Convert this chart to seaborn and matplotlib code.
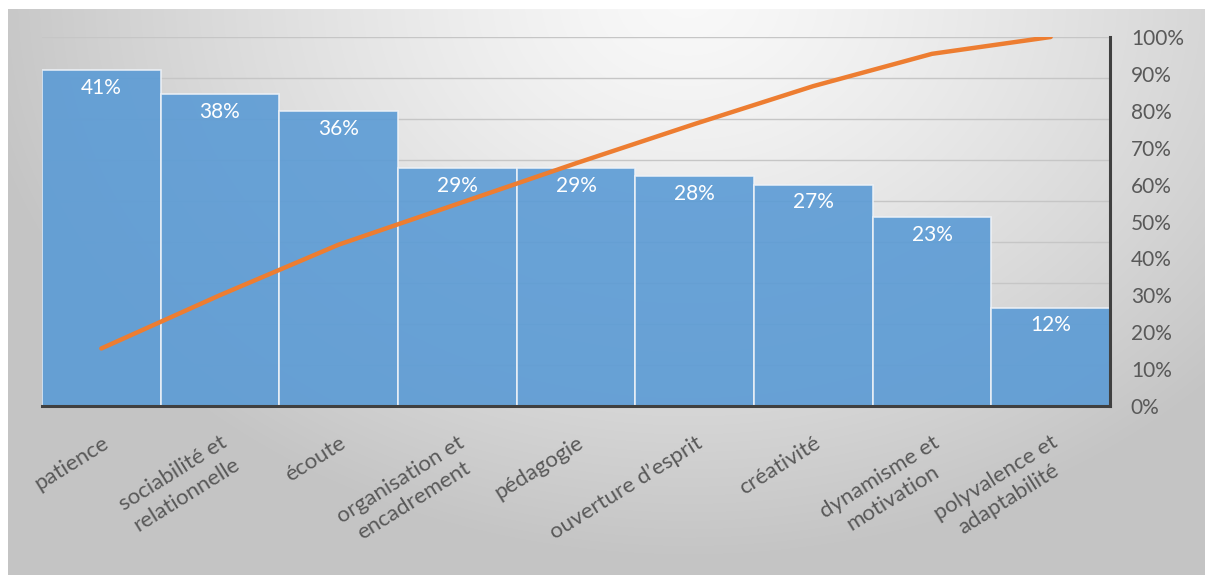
import numpy as np
import pandas as pd
import matplotlib
matplotlib.use("Agg")
import matplotlib.pyplot as plt
import seaborn as sns

# données
competences = ["patience", "sociabilité et\nrelationnelle", "écoute",
               "organisation et\nencadrement", "pédagogie", "ouverture d’esprit",
               "créativité", "dynamisme et\nmotivation", "polyvalence et\nadaptabilité"]
pourcentages = [41, 38, 36, 29, 29, 28, 27, 23, 12]
ticks_droite = [0, 10, 20, 30, 40, 50, 60, 70, 80, 90, 100]

df = pd.DataFrame({"competence": competences, "pct": pourcentages})
df["cumul"] = df["pct"].cumsum() / df["pct"].sum() * 100

sns.set_style("white")
plt.rcParams["font.family"] = ["Lato", "DejaVu Sans"]

W, H = 1205, 575
fig = plt.figure(figsize=(W / 100, H / 100), dpi=100)
fig.patch.set_facecolor("white")

# fond dégradé
bg = fig.add_axes([8 / W, 0, 1 - 8 / W, (H - 9) / H], zorder=-5)
yy, xx = np.mgrid[0:H - 9, 0:W - 8]
d = np.sqrt(((xx - 680) / 720.0) ** 2 + ((yy + 10) / 560.0) ** 2)
d = np.clip(d, 0, 1) ** 1.3
c0, c1 = 0.975, 0.77
grad = c0 + (c1 - c0) * d
bg.imshow(np.dstack([grad, grad, grad]), aspect="auto", interpolation="bilinear")
bg.axis("off")

ax = fig.add_axes([42 / W, (H - 406) / H, (1110 - 42) / W, (406 - 37) / H])
ax.patch.set_visible(False)

sns.barplot(data=df, x="competence", y="pct", ax=ax, width=1, color="#5b9bd5",
            saturation=1, alpha=0.9, edgecolor="#eef2f7", linewidth=1.2)
ax.set_ylim(0, 45)
ax.set_yticks(np.arange(0, 46, 5))
ax.set_yticklabels([])
ax.yaxis.grid(True, color="#c6c6c6", linewidth=1)
ax.set_axisbelow(True)
ax.tick_params(axis="both", length=0)
ax.set_xlabel("")
ax.set_ylabel("")
ax.set_xticks(range(len(competences)))
ax.set_xticklabels(competences, rotation=32, ha="right", va="top",
                   rotation_mode="anchor", multialignment="center",
                   fontsize=16, color="#595959", linespacing=1.3)
ax.tick_params(axis="x", pad=19)

ax.bar_label(ax.containers[0], labels=[f"{v}%" for v in pourcentages],
             padding=-20, color="white", fontsize=15)

for s in ["top", "left", "right"]:
    ax.spines[s].set_visible(False)
ax.spines["bottom"].set_color("#404040")
ax.spines["bottom"].set_linewidth(2.2)

# courbe cumulée
ax2 = ax.twinx()
ax2.patch.set_visible(False)
sns.lineplot(x=np.arange(len(competences)), y=df["cumul"].values, ax=ax2,
             color="#ed7d31", linewidth=3.2)
ax2.set_ylim(0, 100)
ax2.set_yticks(ticks_droite)
ax2.set_yticklabels([f"{t}%" for t in ticks_droite], fontsize=15, color="#595959")
ax2.tick_params(axis="y", length=0, pad=15)
for s in ["top", "left", "bottom"]:
    ax2.spines[s].set_visible(False)
ax2.spines["right"].set_color("#404040")
ax2.spines["right"].set_linewidth(2.2)
ax2.set_xlim(-0.5, len(competences) - 0.5)

fig.savefig("out.png", dpi=100)
